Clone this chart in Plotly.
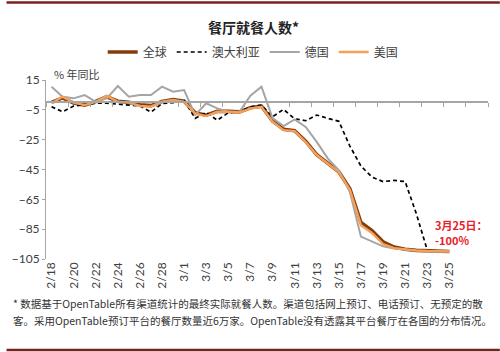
import plotly.graph_objects as go

dates = ["2/18", "2/19", "2/20", "2/21", "2/22", "2/23", "2/24", "2/25", "2/26", "2/27",
         "2/28", "2/29", "3/1", "3/2", "3/3", "3/4", "3/5", "3/6", "3/7", "3/8",
         "3/9", "3/10", "3/11", "3/12", "3/13", "3/14", "3/15", "3/16", "3/17", "3/18",
         "3/19", "3/20", "3/21", "3/22", "3/23", "3/24", "3/25"]
extra_dates = ["3/26", "3/27", "3/28"]

global_vals = [0.0, 3.0, -0.5, -1.8, 0.6, 3.8, 0.8, 0.0, -1.6, -2.2,
               0.6, 1.8, 0.8, -7.0, -8.6, -6.0, -6.0, -6.4, -3.6, -2.6,
               -12.5, -18.0, -19.0, -26.0, -35.0, -40.5, -46.5, -58.0, -80.5, -86.0,
               -93.5, -97.0, -98.5, -99.2, -99.6, -100.0, -100.0]
australia_vals = [-2.9, -6.3, -2.5, -1.5, -0.6, -0.6, -1.1, -1.8, -2.4, -6.5,
                  -0.8, -0.2, 1.3, -10.7, -6.7, -12.0, -7.0, -6.3, -3.0, -1.8,
                  -9.6, -4.7, -11.0, -12.3, -8.5, -10.7, -12.7, -29.3, -42.7, -50.1,
                  -53.1, -52.3, -53.1, -74.3, -99.0]
germany_vals = [10.5, 3.8, 2.7, 4.9, 0.4, 2.7, 11.0, 3.8, 4.9, 4.9,
                10.5, 7.1, 8.3, -8.5, -0.6, -4.0, -6.3, -6.3, 4.5, 10.5,
                -10.5, -15.9, -11.4, -16.5, -26.5, -37.5, -45.5, -60.0, -90.0, -93.5,
                -96.5, -98.0, -99.0, -99.5, -100.0, -100.0, -100.0]
us_vals = [-0.6, 3.8, -0.2, -1.8, 0.4, 4.3, 0.4, -0.2, -2.4, -2.9,
           0.4, 1.6, 0.4, -7.5, -9.2, -6.3, -6.3, -6.8, -4.0, -2.9,
           -13.0, -18.6, -19.3, -26.6, -35.3, -40.7, -46.7, -58.5, -82.3, -87.5,
           -95.0, -97.7, -98.7, -99.2, -99.6, -100.0, -100.0]

y_ticks = [15, -5, -25, -45, -65, -85, -105]
x_ticklabels = dates[::2]

title_text = "<b>餐厅就餐人数*</b>"
unit_text = "% 年同比"
note_line1 = "<b>3月25日：</b>"
note_line2 = "<b>-100%</b>"
footnote1 = "* 数据基于OpenTable所有渠道统计的最终实际就餐人数。渠道包括网上预订、电话预订、无预定的散"
footnote2 = "客。采用OpenTable预订平台的餐厅数量近6万家。OpenTable没有透露其平台餐厅在各国的分布情况。"

W, H = 500, 352
L, R, T, B = 40, 12, 80, 93
PW, PH = W - L - R, H - T - B


def px_x(p):
    return (p - L) / PW


def px_y(p):
    return (H - B - p) / PH


cjk = "Noto Sans CJK SC"
all_dates = dates + extra_dates
n_cat = len(all_dates)

fig = go.Figure()
fig.add_trace(go.Scatter(x=dates, y=global_vals, name="全球", mode="lines",
                         line=dict(color="#843C0C", width=3.6)))
fig.add_trace(go.Scatter(x=dates[:len(australia_vals)], y=australia_vals, name="澳大利亚", mode="lines",
                         line=dict(color="#000000", width=1.7, dash="4px,3px")))
fig.add_trace(go.Scatter(x=dates, y=germany_vals, name="德国", mode="lines",
                         line=dict(color="#A5A5A5", width=2)))
fig.add_trace(go.Scatter(x=dates, y=us_vals, name="美国", mode="lines",
                         line=dict(color="#F4A05A", width=2.4)))
# dummy trace for category-boundary tick axis
fig.add_trace(go.Scatter(x=[None], y=[None], xaxis="x2", showlegend=False, hoverinfo="skip"))

fig.update_layout(
    width=W, height=H,
    margin=dict(l=L, r=R, t=T, b=B),
    paper_bgcolor="white", plot_bgcolor="white",
    showlegend=True,
    legend=dict(orientation="h", x=px_x(250), xanchor="center", y=px_y(52), yanchor="middle",
                font=dict(family=cjk, size=12, color="#404040"), itemwidth=30,
                bgcolor="rgba(0,0,0,0)"),
    xaxis=dict(type="category", categoryorder="array", categoryarray=all_dates,
               range=[-0.5, n_cat - 0.5], tickvals=x_ticklabels, ticktext=x_ticklabels,
               tickangle=-90, showline=False, ticks="", showgrid=False, zeroline=False,
               tickfont=dict(family="Lato", size=12, color="#404040")),
    xaxis2=dict(overlaying="x", anchor="free", position=(0 - y_ticks[-1]) / (y_ticks[0] - y_ticks[-1]),
                range=[-0.5, n_cat - 0.5], tickvals=[k - 0.5 for k in range(0, n_cat + 1, 2)],
                showticklabels=False, ticks="outside", ticklen=4, tickcolor="#A6A6A6",
                showline=True, linecolor="#A6A6A6", linewidth=1.5, showgrid=False, zeroline=False),
    yaxis=dict(range=[y_ticks[-1], y_ticks[0]], tickvals=y_ticks, showgrid=False, zeroline=False,
               showline=True, linecolor="#A6A6A6", linewidth=1, ticks="outside", ticklen=3,
               tickcolor="#A6A6A6",
               tickfont=dict(family="Lato", size=12, color="#404040")),
)

annotations = [
    dict(text=title_text, x=px_x(250), y=px_y(27), xref="paper", yref="paper",
         showarrow=False, xanchor="center", yanchor="middle",
         font=dict(family=cjk, size=14, color="#222222")),
    dict(text=unit_text, x=px_x(46), y=px_y(74), xref="paper", yref="paper",
         showarrow=False, xanchor="left", yanchor="middle",
         font=dict(family=cjk, size=11, color="#404040")),
    dict(text=note_line1, x=px_x(432), y=px_y(225), xref="paper", yref="paper",
         showarrow=False, xanchor="left", yanchor="middle", align="left",
         font=dict(family=cjk, size=11, color="#E8202A")),
    dict(text=note_line2, x=px_x(432), y=px_y(240), xref="paper", yref="paper",
         showarrow=False, xanchor="left", yanchor="middle", align="left",
         font=dict(family=cjk, size=11, color="#E8202A")),
    dict(text=footnote1, x=px_x(5), y=px_y(303), xref="paper", yref="paper",
         showarrow=False, xanchor="left", yanchor="middle",
         font=dict(family=cjk, size=10.5, color="#333333")),
    dict(text=footnote2, x=px_x(5), y=px_y(320), xref="paper", yref="paper",
         showarrow=False, xanchor="left", yanchor="middle",
         font=dict(family=cjk, size=10.5, color="#333333")),
]
fig.update_layout(annotations=annotations)

shapes = [
    dict(type="line", xref="paper", yref="paper", x0=px_x(0), x1=px_x(W), y0=px_y(2.5), y1=px_y(2.5),
         line=dict(color="#7B1F1F", width=2.5)),
    dict(type="line", xref="paper", yref="paper", x0=px_x(0), x1=px_x(W), y0=px_y(350), y1=px_y(350),
         line=dict(color="#7B1F1F", width=2.5)),
]
fig.update_layout(shapes=shapes)

fig.write_html("out.html")
